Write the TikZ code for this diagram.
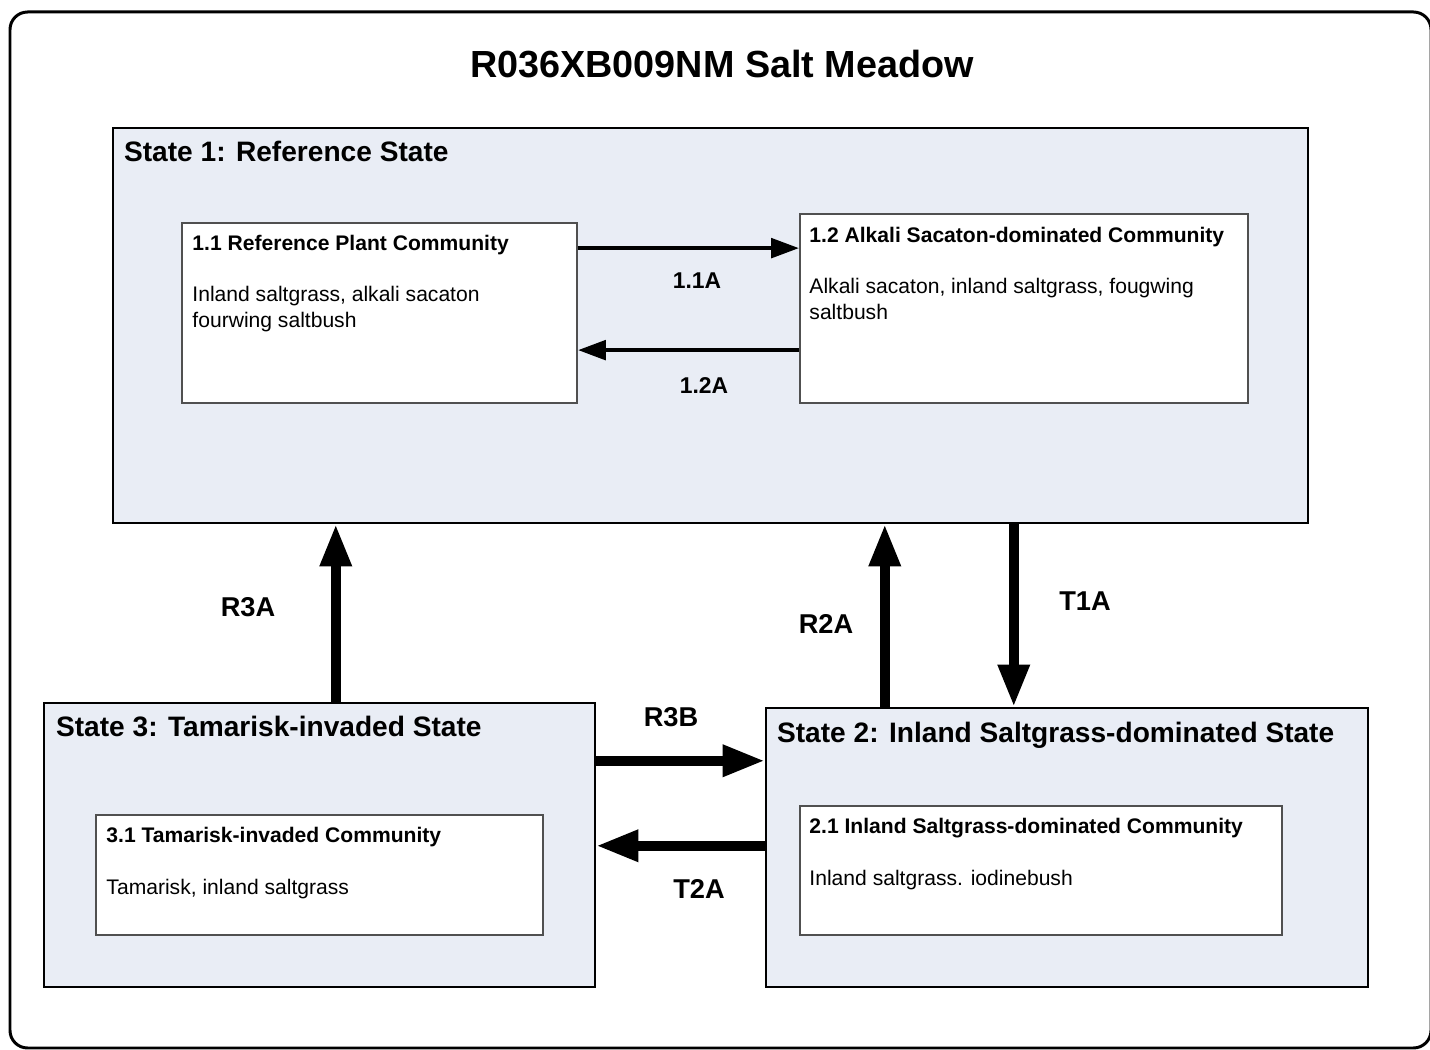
\documentclass[tikz,border=0pt]{standalone}
\usepackage{fontspec}
\setmainfont{Liberation Sans}
\usetikzlibrary{arrows.meta,calc,fit}
\definecolor{statefill}{RGB}{233,237,245}
\definecolor{commline}{RGB}{80,80,80}

\begin{document}
\begin{tikzpicture}[x=0.02cm,y=-0.02cm,
    statebox/.style={draw,line width=1.4pt,fill=statefill,inner sep=0pt},
    commbox/.style={draw=commline,line width=1pt,fill=white,inner sep=0pt},
    statetitle/.style={font=\fontsize{16}{19}\bfseries,anchor=base west,inner sep=0pt},
    commhead/.style={font=\fontsize{12}{14}\bfseries,anchor=base west,inner sep=0pt},
    commtext/.style={font=\fontsize{12}{14.5}\selectfont,anchor=base west,inner sep=0pt,align=left},
    lbl/.style={font=\fontsize{13}{15}\bfseries},
    biglbl/.style={font=\fontsize{15.5}{18}\bfseries},
    arw/.style={line width=2.6pt,-{Triangle[length=16pt,width=11pt]}},
    bigarw/.style={line width=5.5pt,-{Triangle[length=24pt,width=17pt]}}]
  \useasboundingbox (0,0) rectangle (1430,1050);
  \draw[line width=1.7pt,rounded corners=10pt] (10,12) rectangle (1431,1048);
  \node[font=\fontsize{21.5}{25}\bfseries,anchor=base] (title) at (722,78) {R036XB009NM Salt Meadow};

  \node[statebox,fit={(113,128) (1308,523)}] (s1) {};
  \node[statebox,fit={(44,703) (595,987)}] (s3) {};
  \node[statebox,fit={(766,708) (1368,987)}] (s2) {};
  \node[statetitle] (st1) at ($(s1.north west)+(12,35)$) {State 1: Reference State};
  \node[statetitle] (st3) at ($(s3.north west)+(13,35)$) {State 3: Tamarisk-invaded State};
  \node[statetitle] (st2) at ($(s2.north west)+(12,36)$) {State 2: Inland Saltgrass-dominated State};

  \node[commbox,fit={(182,223) (577,403)}] (c11) {};
  \node[commbox,fit={(800,214) (1248,403)}] (c12) {};
  \node[commbox,fit={(96,815) (543,935)}] (c31) {};
  \node[commbox,fit={(800,806) (1282,935)}] (c21) {};
  \node[commhead] (h11) at ($(c11.north west)+(11,28)$) {1.1 Reference Plant Community};
  \node[commtext] (t11) at ($(c11.north west)+(11,105)$) {Inland saltgrass, alkali sacaton\\fourwing saltbush};
  \node[commhead] (h12) at ($(c12.north west)+(10,29)$) {1.2 Alkali Sacaton-dominated Community};
  \node[commtext] (t12) at ($(c12.north west)+(10,106)$) {Alkali sacaton, inland saltgrass, fougwing\\saltbush};
  \node[commhead] (h31) at ($(c31.north west)+(11,28)$) {3.1 Tamarisk-invaded Community};
  \node[commtext] (t31) at ($(c31.north west)+(11,80)$) {Tamarisk, inland saltgrass};
  \node[commhead] (h21) at ($(c21.north west)+(10,28)$) {2.1 Inland Saltgrass-dominated Community};
  \node[commtext] (t21) at ($(c21.north west)+(10,80)$) {Inland saltgrass. iodinebush};

  \coordinate (a11) at ($(c11.north east)+(0,26)$);
  \coordinate (a12) at ($(c12.north west)+(0,137)$);
  \coordinate (r3a) at ($(s3.north west)+(293,0)$);
  \coordinate (r2a) at ($(s2.north west)+(120,0)$);
  \coordinate (t1a) at ($(s1.south west)+(902,0)$);
  \coordinate (r3b) at ($(s3.north east)+(0,59)$);
  \coordinate (t2a) at ($(s2.north west)+(0,139)$);
  \draw[arw] (a11) -- (a11 -| c12.west);
  \draw[arw] (a12) -- (a12 -| c11.east);
  \draw[bigarw] (r3a) -- (r3a |- s1.south);
  \draw[bigarw] (r2a) -- (r2a |- s1.south);
  \draw[bigarw] (t1a) -- (t1a |- s2.north);
  \draw[bigarw] (r3b) -- (r3b -| s2.west);
  \draw[bigarw] (t2a) -- (t2a -| s3.east);

  \node[lbl] (l11a) at (697,281) {1.1A};
  \node[lbl] (l12a) at (704,386) {1.2A};
  \node[biglbl] (lr3a) at (248,607) {R3A};
  \node[biglbl] (lr2a) at (826,624) {R2A};
  \node[biglbl] (lt1a) at (1085,601) {T1A};
  \node[biglbl] (lr3b) at (671,717) {R3B};
  \node[biglbl] (lt2a) at (699,889) {T2A};
\end{tikzpicture}
\end{document}
